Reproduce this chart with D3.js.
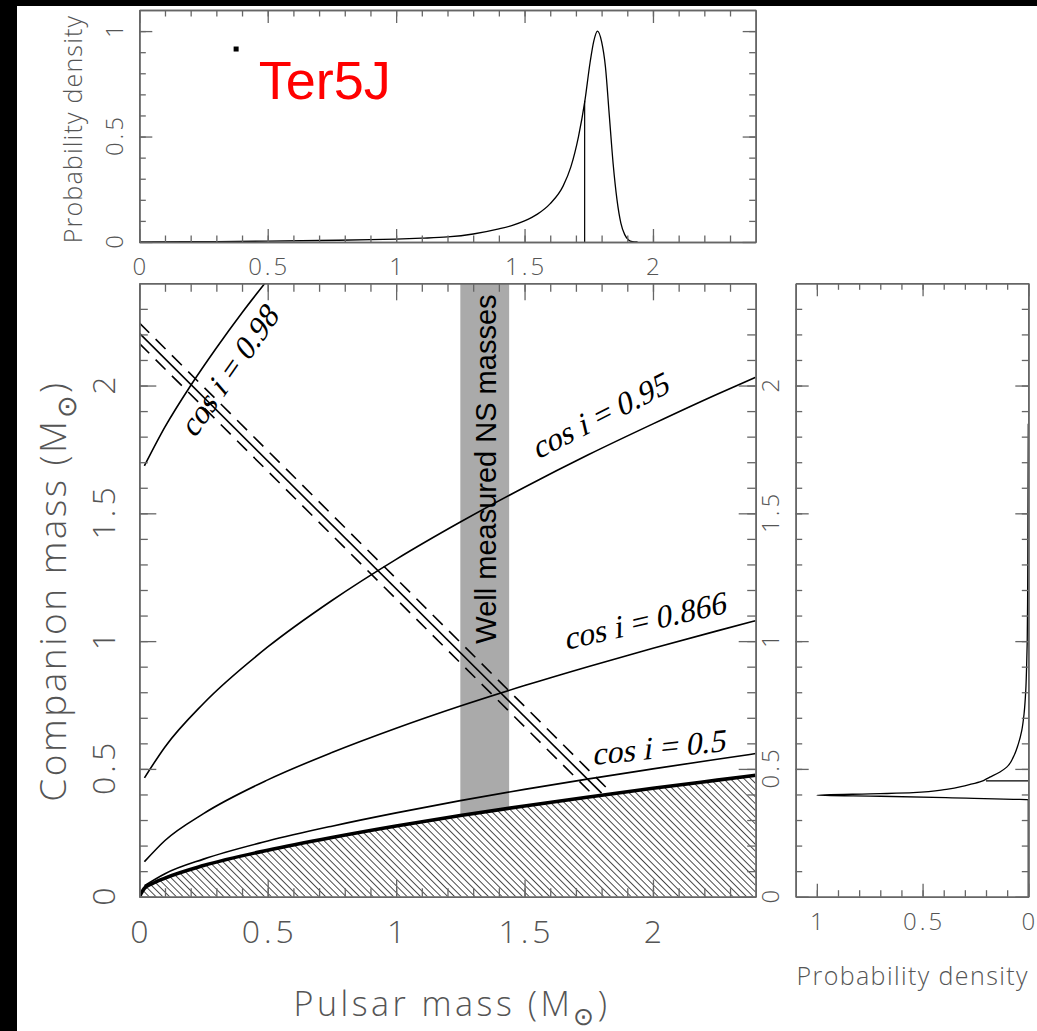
<!DOCTYPE html>
<html>
<head>
<meta charset="utf-8">
<script src="https://d3js.org/d3.v7.min.js"></script>
<style>
  body { margin: 0; background: #000; }
  svg { display: block; }
  .lbl { font-family: "Open Sans", "DejaVu Sans", sans-serif; font-weight: 300; fill: #555; }
  .cosl { font-family: "Liberation Serif", "DejaVu Serif", serif; fill: #000; }
</style>
</head>
<body>
<svg id="svg1" width="1037" height="1031"></svg>
<script>
// ---- data ----
// companion mass curves for fixed inclination (pulsar mass grid)
var mpGrid    = [0.02, 0.1, 0.25, 0.5, 0.75, 1.0, 1.25, 1.5, 1.75, 2.0, 2.25, 2.4];
var mcCos095  = [0.465, 0.586, 0.756, 0.977, 1.159, 1.320, 1.466, 1.602, 1.730, 1.850, 1.966, 2.032];
var mcCos0866 = [0.137, 0.220, 0.325, 0.457, 0.564, 0.659, 0.746, 0.826, 0.901, 0.972, 1.040, 1.080];
var mcCos05   = [0.043, 0.090, 0.147, 0.218, 0.276, 0.328, 0.376, 0.420, 0.461, 0.500, 0.538, 0.560];
var mpCos098  = [0.02, 0.1, 0.2, 0.3, 0.4, 0.5];
var mcCos098  = [1.686, 1.838, 2.0, 2.147, 2.285, 2.414];
// sin i = 1 limit (edge of the hatched region)
var mpEdge = [0, 0.02, 0.05, 0.1, 0.25, 0.5, 0.75, 1.0, 1.25, 1.5, 1.75, 2.0, 2.25, 2.4];
var mcEdge = [0, 0.033, 0.051, 0.073, 0.122, 0.182, 0.232, 0.277, 0.318, 0.355, 0.390, 0.424, 0.456, 0.475];
// total mass constraint (solid) and its bounds (dashed), with the pulsar mass where each line stops
var totalMass    = [2.165, 2.205, 2.245];
var totalMassEnd = [1.77, 1.80, 1.835];
// well measured NS masses band
var nsBand = [1.25, 1.44];

// pulsar mass probability density (top panel)
var pdfMp   = [0, 0.3, 0.5, 0.7, 0.9, 1.0, 1.1, 1.2, 1.3, 1.4, 1.45, 1.5, 1.55, 1.6, 1.65, 1.68, 1.71, 1.735, 1.755, 1.77, 1.784, 1.80, 1.815, 1.83, 1.845, 1.86, 1.875, 1.89, 1.905, 1.92, 1.94];
var pdfMpVal= [0, 0.002, 0.004, 0.007, 0.011, 0.014, 0.018, 0.024, 0.038, 0.062, 0.078, 0.100, 0.132, 0.182, 0.265, 0.355, 0.50, 0.67, 0.85, 0.955, 1.0, 0.95, 0.83, 0.60, 0.37, 0.20, 0.09, 0.035, 0.01, 0.002, 0];
var medianMp = [1.734, 0.67];
var markerPt = [0.377, 0.915];

// companion mass probability density (right panel)
var pdfMc    = [0, 0.38, 0.381, 0.388, 0.393, 0.397, 0.403, 0.407, 0.42, 0.436, 0.449, 0.468, 0.488, 0.507, 0.546, 0.598, 0.65, 0.716, 0.807, 0.9, 1.0, 1.2, 1.5, 1.85];
var pdfMcVal = [0, 0, 0.07, 0.39, 0.70, 1.0, 0.70, 0.545, 0.387, 0.292, 0.229, 0.182, 0.134, 0.102, 0.071, 0.047, 0.031, 0.020, 0.012, 0.008, 0.005, 0.003, 0.0015, 0];
var medianMc = [0.453, 0.20];

// ticks
var massTicks = [0, 0.5, 1, 1.5, 2];
var massTickLabels = ["0", "0.5", "1", "1.5", "2"];
var pdfTicks = [0, 0.5, 1];
var pdfTickLabels = ["0", "0.5", "1"];

var svg = d3.select("#svg1");
svg.append("rect").attr("width", 1037).attr("height", 1031).attr("fill", "#000");
svg.append("rect").attr("x", 17).attr("y", 6).attr("width", 1020).attr("height", 1025).attr("fill", "#fff");

var W = 616.4, H = 613.4;
var x = d3.scaleLinear().domain([0, 2.4]).range([0, W]);
var y = d3.scaleLinear().domain([0, 2.4]).range([H, 0]);
var yTop = d3.scaleLinear().domain([0, 1.1]).range([232, 0]);
var xSide = d3.scaleLinear().domain([1.1, 0]).range([0, 232.6]);

var minorMass = d3.range(1, 24).map(function(i) { return i / 10; });
var minorPdf = d3.range(1, 11).map(function(i) { return i / 10; });

function frame(g, xs, ys, w, h, xMaj, xMin, yMaj, yMin, big, small) {
  var sets = [[xMin, yMin, small], [xMaj, yMaj, big]];
  sets.forEach(function(s) {
    g.append("g").attr("transform", "translate(0," + h + ")")
      .call(d3.axisBottom(xs).tickValues(s[0]).tickSize(-s[2]).tickSizeOuter(0).tickFormat(""));
    g.append("g")
      .call(d3.axisTop(xs).tickValues(s[0]).tickSize(-s[2]).tickSizeOuter(0).tickFormat(""));
    g.append("g")
      .call(d3.axisLeft(ys).tickValues(s[1]).tickSize(-s[2]).tickSizeOuter(0).tickFormat(""));
    g.append("g").attr("transform", "translate(" + w + ",0)")
      .call(d3.axisRight(ys).tickValues(s[1]).tickSize(-s[2]).tickSizeOuter(0).tickFormat(""));
  });
  g.selectAll(".domain").attr("stroke", "#666").attr("stroke-width", 1.6);
  g.selectAll(".tick line").attr("stroke", "#666").attr("stroke-width", 1.3);
}

var defs = svg.append("defs");
defs.append("clipPath").attr("id", "clipMain").append("rect").attr("width", W).attr("height", H);
defs.append("pattern").attr("id", "hatch").attr("patternUnits", "userSpaceOnUse")
  .attr("width", 4.8).attr("height", 4.8).attr("patternTransform", "rotate(-45)")
  .append("line").attr("x1", 0).attr("y1", -1).attr("x2", 0).attr("y2", 6)
  .attr("stroke", "#000").attr("stroke-width", 1.4);

// ---------------- main panel ----------------
var g = svg.append("g").attr("transform", "translate(139.3,283.3)");
var plot = g.append("g").attr("clip-path", "url(#clipMain)");

plot.append("rect")
  .attr("x", x(nsBand[0])).attr("y", 0)
  .attr("width", x(nsBand[1]) - x(nsBand[0])).attr("height", H)
  .attr("fill", "#aaaaaa");

var edge = mpEdge.map(function(d, i) { return [d, mcEdge[i]]; });
var area = d3.area().x(function(d) { return x(d[0]); }).y0(H).y1(function(d) { return y(d[1]); })
  .curve(d3.curveMonotoneX);
plot.append("path").datum(edge).attr("d", area).attr("fill", "#fff");
plot.append("path").datum(edge).attr("d", area).attr("fill", "url(#hatch)");

var line = d3.line().x(function(d) { return x(d[0]); }).y(function(d) { return y(d[1]); })
  .curve(d3.curveMonotoneX);

function pairs(xs, ys) { return xs.map(function(d, i) { return [d, ys[i]]; }); }

[mcCos095, mcCos0866, mcCos05].forEach(function(s) {
  plot.append("path").datum(pairs(mpGrid, s)).attr("d", line)
    .attr("fill", "none").attr("stroke", "#000").attr("stroke-width", 1.6);
});
plot.append("path").datum(pairs(mpCos098, mcCos098)).attr("d", line)
  .attr("fill", "none").attr("stroke", "#000").attr("stroke-width", 1.6);
plot.append("path").datum(edge).attr("d", line)
  .attr("fill", "none").attr("stroke", "#000").attr("stroke-width", 3.6);

totalMass.forEach(function(m, i) {
  var e = totalMassEnd[i];
  plot.append("line")
    .attr("x1", x(0)).attr("y1", y(m))
    .attr("x2", x(e)).attr("y2", y(m - e))
    .attr("stroke", "#000").attr("stroke-width", 1.6)
    .attr("stroke-dasharray", i === 1 ? null : "14,9");
});

plot.append("text")
  .attr("transform", "translate(" + ((x(nsBand[0]) + x(nsBand[1])) / 2 + 11) + "," + y(0.99) + ") rotate(-90)")
  .attr("font-family", "Liberation Sans, Arial, sans-serif").attr("font-size", 29)
  .attr("fill", "#000").text("Well measured NS masses");

var cosLabels = [
  { t: "cos i = 0.98", mp: 0.215, mc: 1.79, a: -55 },
  { t: "cos i = 0.95", mp: 1.55, mc: 1.71, a: -27 },
  { t: "cos i = 0.866", mp: 1.66, mc: 0.965, a: -13 },
  { t: "cos i = 0.5", mp: 1.765, mc: 0.515, a: -6 }
];
// slanted by hand so the labels look italic like the original
cosLabels.forEach(function(d) {
  g.append("text").attr("class", "cosl").attr("font-size", 32)
    .attr("transform", "translate(" + x(d.mp) + "," + y(d.mc) + ") rotate(" + d.a + ") skewX(-14)")
    .text(d.t);
});

frame(g, x, y, W, H, massTicks, minorMass, massTicks, minorMass, 17, 8.5);

g.selectAll(".xl").data(massTicks).enter().append("text").attr("class", "lbl")
  .attr("x", function(d) { return x(d) + 2; }).attr("y", H + 46)
  .attr("text-anchor", "middle").attr("font-size", 32).attr("letter-spacing", 4)
  .text(function(d, i) { return massTickLabels[i]; });
g.selectAll(".yl").data(massTicks).enter().append("text").attr("class", "lbl")
  .attr("transform", function(d) { return "translate(-24," + (y(d) - 2) + ") rotate(-90)"; })
  .attr("text-anchor", "middle").attr("font-size", 32).attr("letter-spacing", 4)
  .text(function(d, i) { return massTickLabels[i]; });
g.selectAll(".yr").data(massTicks).enter().append("text").attr("class", "lbl")
  .attr("transform", function(d) { return "translate(" + (W + 23) + "," + (y(d) - 1.5) + ") rotate(-90)"; })
  .attr("text-anchor", "middle").attr("font-size", 24).attr("letter-spacing", 3)
  .text(function(d, i) { return massTickLabels[i]; });

var xt = svg.append("text").attr("class", "lbl").attr("x", 452).attr("y", 1016)
  .attr("text-anchor", "middle").attr("font-size", 34).attr("letter-spacing", 3.5);
xt.append("tspan").text("Pulsar mass (M");
xt.append("tspan").attr("dy", 9).attr("font-size", 25).text("\u2299");
xt.append("tspan").attr("dy", -9).text(")");

var yt = svg.append("text").attr("class", "lbl").attr("transform", "translate(66,591) rotate(-90)")
  .attr("text-anchor", "middle").attr("font-size", 37).attr("letter-spacing", 2.5);
yt.append("tspan").text("Companion mass (M");
yt.append("tspan").attr("dy", 10).attr("font-size", 27).text("\u2299");
yt.append("tspan").attr("dy", -10).text(")");

// ---------------- top panel ----------------
var gt = svg.append("g").attr("transform", "translate(139.3,10)");
var lineTop = d3.line().x(function(d) { return x(d[0]); }).y(function(d) { return yTop(d[1]); })
  .curve(d3.curveMonotoneX);
gt.append("path").datum(pairs(pdfMp, pdfMpVal)).attr("d", lineTop)
  .attr("fill", "none").attr("stroke", "#000").attr("stroke-width", 1.3);
gt.append("line").attr("x1", x(medianMp[0])).attr("x2", x(medianMp[0]))
  .attr("y1", yTop(0)).attr("y2", yTop(medianMp[1]))
  .attr("stroke", "#000").attr("stroke-width", 1.2);
gt.append("rect").attr("x", x(markerPt[0]) - 2.5).attr("y", yTop(markerPt[1]) - 2.5)
  .attr("width", 5).attr("height", 5).attr("fill", "#000");
gt.append("text").attr("x", x(0.465)).attr("y", yTop(0.68))
  .attr("font-family", "Liberation Sans, Arial, sans-serif").attr("font-size", 54)
  .attr("fill", "#ff0000").text("Ter5J");

frame(gt, x, yTop, W, 232, massTicks, minorMass, pdfTicks, minorPdf, 13, 6.5);

gt.selectAll(".xl").data(massTicks).enter().append("text").attr("class", "lbl")
  .attr("x", function(d) { return x(d) + 1.5; }).attr("y", 232 + 33)
  .attr("text-anchor", "middle").attr("font-size", 24).attr("letter-spacing", 3)
  .text(function(d, i) { return massTickLabels[i]; });
gt.selectAll(".yl").data(pdfTicks).enter().append("text").attr("class", "lbl")
  .attr("transform", function(d) { return "translate(-16," + (yTop(d) - 1.5) + ") rotate(-90)"; })
  .attr("text-anchor", "middle").attr("font-size", 24).attr("letter-spacing", 3)
  .text(function(d, i) { return pdfTickLabels[i]; });
gt.append("text").attr("class", "lbl").attr("transform", "translate(-57,119) rotate(-90)")
  .attr("text-anchor", "middle").attr("font-size", 25).attr("letter-spacing", 1.2)
  .text("Probability density");

// ---------------- side panel ----------------
var gs = svg.append("g").attr("transform", "translate(795.7,283.3)");
var lineSide = d3.line().x(function(d) { return xSide(d[1]); }).y(function(d) { return y(d[0]); })
  .curve(d3.curveMonotoneY);
gs.append("path").datum(pairs(pdfMc, pdfMcVal)).attr("d", lineSide)
  .attr("fill", "none").attr("stroke", "#000").attr("stroke-width", 1.3);
gs.append("line").attr("x1", xSide(0)).attr("x2", xSide(medianMc[1]))
  .attr("y1", y(medianMc[0])).attr("y2", y(medianMc[0]))
  .attr("stroke", "#000").attr("stroke-width", 1.2);

frame(gs, xSide, y, 232.6, H, pdfTicks, minorPdf, massTicks, minorMass, 13, 6.5);

gs.selectAll(".xl").data(pdfTicks).enter().append("text").attr("class", "lbl")
  .attr("x", function(d) { return xSide(d) + 1.5; }).attr("y", H + 33)
  .attr("text-anchor", "middle").attr("font-size", 24).attr("letter-spacing", 3)
  .text(function(d, i) { return pdfTickLabels[i]; });
gs.append("text").attr("class", "lbl").attr("x", 117).attr("y", H + 88)
  .attr("text-anchor", "middle").attr("font-size", 25).attr("letter-spacing", 1.4)
  .text("Probability density");
</script>
</body>
</html>
